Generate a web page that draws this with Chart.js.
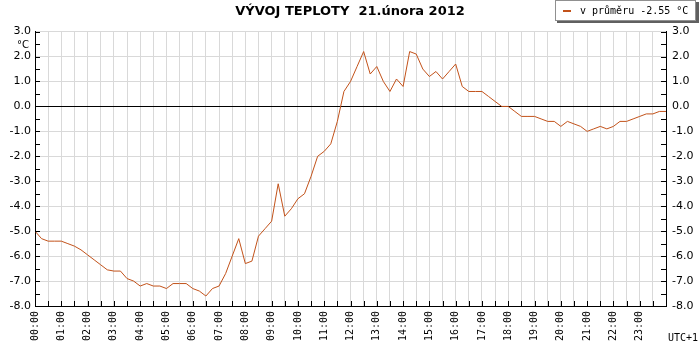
<!DOCTYPE html>
<html>
<head>
<meta charset="utf-8">
<script src="https://cdn.jsdelivr.net/npm/chart.js@4"></script>
<style>
  html, body { margin: 0; padding: 0; background: #fff; }
  #wrap { width: 700px; height: 350px; }
</style>
</head>
<body>
<div id="wrap"><canvas id="chart" width="700" height="350"></canvas></div>
<script>
// temperature every 15 minutes, 00:00 .. 24:00
const temps = [
  -5.0, -5.3, -5.4, -5.4, -5.4, -5.5, -5.6, -5.75,
  -5.95, -6.15, -6.35, -6.55, -6.6, -6.6, -6.9, -7.0,
  -7.2, -7.1, -7.2, -7.2, -7.3, -7.1, -7.1, -7.1,
  -7.3, -7.4, -7.6, -7.3, -7.2, -6.7, -6.0, -5.3,
  -6.3, -6.2, -5.2, -4.9, -4.6, -3.1, -4.4, -4.1,
  -3.7, -3.5, -2.8, -2.0, -1.8, -1.5, -0.6, 0.6,
  1.0, 1.6, 2.2, 1.3, 1.6, 1.0, 0.6, 1.1,
  0.8, 2.2, 2.1, 1.5, 1.2, 1.4, 1.1, 1.4,
  1.7, 0.8, 0.6, 0.6, 0.6, 0.4, 0.2, 0.0,
  0.0, -0.2, -0.4, -0.4, -0.4, -0.5, -0.6, -0.6,
  -0.8, -0.6, -0.7, -0.8, -1.0, -0.9, -0.8, -0.9,
  -0.8, -0.6, -0.6, -0.5, -0.4, -0.3, -0.3, -0.2,
  -0.2
];
// sample times in hours
const hours = temps.map((t, i) => i / 4);

const yMin = -8, yMax = 3;
const titleText = 'VÝVOJ TEPLOTY  21.února 2012';
const legendText = 'v průměru -2.55 °C';
const lineColor = '#c2521a';

// inward tick marks, legend box and small labels
const extras = {
  id: 'extras',
  afterDraw(chart) {
    const ctx = chart.ctx;
    const a = chart.chartArea;
    const x = chart.scales.x, y = chart.scales.y;
    ctx.save();
    ctx.strokeStyle = '#000';
    ctx.lineWidth = 1;
    ctx.beginPath();
    for (let v = yMin; v <= yMax; v += 0.5) {
      const py = Math.round(y.getPixelForValue(v)) + 0.5;
      ctx.moveTo(a.left, py); ctx.lineTo(a.left + 5, py);
      ctx.moveTo(a.right - 5, py); ctx.lineTo(a.right, py);
    }
    for (let h = 0; h <= 24; h += 0.5) {
      const px = Math.round(x.getPixelForValue(h)) + 0.5;
      ctx.moveTo(px, a.bottom); ctx.lineTo(px, a.bottom - 5);
    }
    ctx.stroke();

    // °C under the top label
    ctx.fillStyle = '#000';
    ctx.font = '10px "DejaVu Sans"';
    ctx.textAlign = 'right';
    ctx.textBaseline = 'middle';
    ctx.fillText('°C', 29, 45);

    // timezone
    ctx.font = '10px "DejaVu Sans Mono"';
    ctx.textAlign = 'right';
    ctx.fillText('UTC+1', 698, 338);

    // legend box
    ctx.fillStyle = '#606060';
    ctx.fillRect(557, 2, 142, 21);
    ctx.fillStyle = '#fff';
    ctx.fillRect(555, 0, 141, 21);
    ctx.strokeStyle = '#909090';
    ctx.strokeRect(555.5, 0.5, 140, 20);
    ctx.fillStyle = lineColor;
    ctx.fillRect(563, 10, 8, 2);
    ctx.fillStyle = '#000';
    ctx.font = '10px "DejaVu Sans Mono"';
    ctx.textAlign = 'left';
    ctx.fillText(legendText, 580, 11);
    ctx.restore();
  }
};

const yTicks = {
  stepSize: 0.5,
  autoSkip: false,
  color: '#000',
  font: { family: 'DejaVu Sans', size: 11 },
  callback: v => Number.isInteger(v) ? v.toFixed(1) : ''
};

new Chart(document.getElementById('chart'), {
  type: 'line',
  data: {
    datasets: [{
      data: hours.map((h, i) => ({ x: h, y: temps[i] })),
      borderColor: lineColor,
      borderWidth: 1,
      pointRadius: 0,
      tension: 0,
      fill: false
    }]
  },
  options: {
    responsive: false,
    animation: false,
    layout: { padding: 0 },
    plugins: {
      legend: { display: false },
      tooltip: { enabled: false },
      title: {
        display: true,
        text: titleText,
        color: '#000',
        font: { family: 'DejaVu Sans', size: 13, weight: 'bold' },
        padding: { top: 4, bottom: 12 }
      }
    },
    scales: {
      x: {
        type: 'linear',
        min: 0,
        max: 24,
        afterFit: s => { s.height = 44; },
        border: { display: true, color: '#000', width: 1 },
        grid: { color: '#d9d9d9', drawTicks: false },
        ticks: {
          stepSize: 0.5,
          autoSkip: false,
          minRotation: 90,
          maxRotation: 90,
          padding: 5,
          color: '#000',
          font: { family: 'DejaVu Sans Mono', size: 10 },
          callback: v => (Number.isInteger(v) && v < 24) ? String(v).padStart(2, '0') + ':00' : ''
        }
      },
      y: {
        min: yMin,
        max: yMax,
        position: 'left',
        afterFit: s => { s.width = 35; },
        border: { display: true, color: '#000', width: 1 },
        grid: {
          drawTicks: false,
          color: c => {
            const v = c.tick ? c.tick.value : NaN;
            if (v === 0) return '#000';
            return Number.isInteger(v) ? '#d9d9d9' : 'rgba(0,0,0,0)';
          }
        },
        ticks: Object.assign({ padding: 4 }, yTicks)
      },
      y2: {
        type: 'linear',
        min: yMin,
        max: yMax,
        position: 'right',
        afterFit: s => { s.width = 34; },
        border: { display: true, color: '#000', width: 1 },
        grid: { display: false, drawTicks: false },
        ticks: Object.assign({ padding: 6 }, yTicks)
      }
    }
  },
  plugins: [extras]
});
</script>
</body>
</html>
